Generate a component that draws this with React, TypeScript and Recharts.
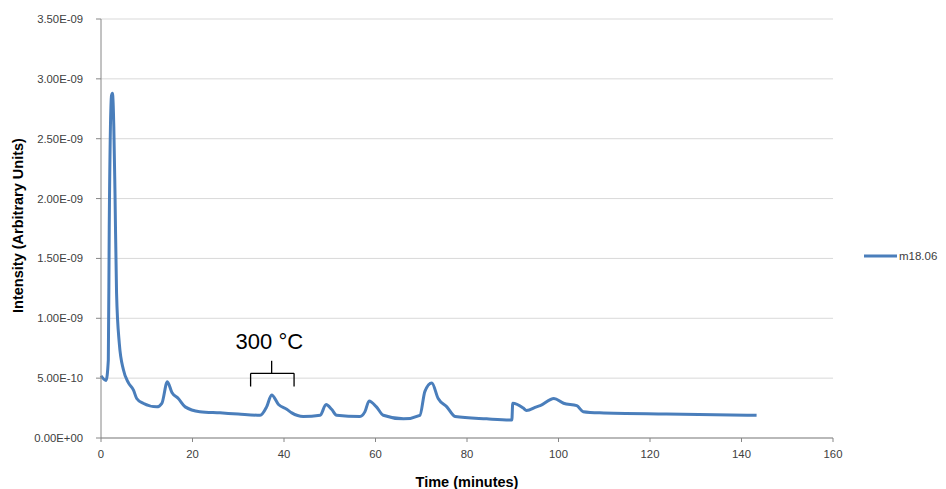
import React from "react";
import {
  LineChart,
  Line,
  XAxis,
  YAxis,
  CartesianGrid,
  Legend,
  ReferenceLine,
  ReferenceDot,
} from "recharts";

// time in minutes, intensity in units of 1e-9
const times = [
  0, 1.1, 1.6, 1.8, 2.3, 2.5, 2.8, 3.06, 3.4, 4.0, 4.9, 6.0, 7.1, 7.8, 9.2,
  12.2, 13.3, 14.5, 15.5, 16.9, 18.4, 21.6, 26, 30, 34.8, 36.2, 37.3, 38.8,
  40.6, 41.7, 44.2, 47.9, 49.2, 50.4, 51.5, 56.6, 57.7, 58.6, 60.2, 61.7,
  66.1, 69.7, 70.8, 72.3, 73.7, 75.6, 77.4, 84.3, 89.8, 90.0, 92.3, 93.0,
  95.2, 96, 99.0, 101.1, 104, 105.4, 109, 123.6, 143.3,
];
const intensity = [
  0.52, 0.48, 0.65, 1.76, 2.86, 2.88, 2.6, 2.04, 1.21, 0.79, 0.57, 0.46, 0.4,
  0.33, 0.29, 0.26, 0.29, 0.47, 0.38, 0.33, 0.26, 0.22, 0.21, 0.2, 0.19, 0.26,
  0.36, 0.28, 0.24, 0.21, 0.18, 0.19, 0.28, 0.24, 0.19, 0.18, 0.22, 0.31, 0.26,
  0.19, 0.16, 0.19, 0.39, 0.46, 0.33, 0.26, 0.18, 0.16, 0.15, 0.29, 0.25, 0.23,
  0.26, 0.27, 0.33, 0.29, 0.27, 0.22, 0.21, 0.2, 0.19,
];

const xTicks = [0, 20, 40, 60, 80, 100, 120, 140, 160];
const yTicks = [0, 5e-10, 1e-9, 1.5e-9, 2e-9, 2.5e-9, 3e-9, 3.5e-9];

const seriesName = "m18.06";
const annotation = "300 °C";
// brace over the 300 °C step: left, right, bar level, tip level (x in min, y in 1e-9)
const braceLeft = 32.7;
const braceRight = 42.2;
const braceMid = 37.3;
const braceFoot = 0.43;
const braceBar = 0.54;
const braceTip = 0.645;

const data = times.map((t, i) => ({ t, v: intensity[i] * 1e-9 }));

const lineColor = "#4a7ebb";
const axisColor = "#868686";
const font = "Liberation Sans, Arial, sans-serif";

function sci(v: number) {
  const [m, e] = v.toExponential(2).toUpperCase().split("E");
  const sign = e.startsWith("-") ? "-" : "+";
  return `${m}E${sign}${e.replace(/[+-]/, "").padStart(2, "0")}`;
}

const LegendBox = () => (
  <div
    style={{
      width: 82,
      display: "flex",
      alignItems: "center",
      fontFamily: font,
      fontSize: 11.5,
      color: "#404040",
    }}
  >
    <svg width={33} height={6}>
      <line x1={0} y1={3} x2={33} y2={3} stroke={lineColor} strokeWidth={3} />
    </svg>
    <span style={{ marginLeft: 2 }}>{seriesName}</span>
  </div>
);

const braceSeg = (a: [number, number], b: [number, number]) => [
  { x: a[0], y: a[1] * 1e-9 },
  { x: b[0], y: b[1] * 1e-9 },
];

export default function App() {
  const tickStyle = { fontFamily: font, fontSize: 11.3, fill: "#404040" };
  const braceLines = [
    braceSeg([braceLeft, braceFoot], [braceLeft, braceBar]),
    braceSeg([braceLeft, braceBar], [braceRight, braceBar]),
    braceSeg([braceRight, braceBar], [braceRight, braceFoot]),
    braceSeg([braceMid, braceBar], [braceMid, braceTip]),
  ];

  return (
    <div style={{ position: "absolute", left: 0, top: 0, background: "#fff" }}>
      <LineChart
        width={946}
        height={489}
        data={data}
        margin={{ top: 19, right: 31, bottom: 0, left: 0 }}
      >
        <CartesianGrid
          horizontal
          vertical={false}
          stroke="#d9d9d9"
          strokeWidth={1}
        />
        <XAxis
          dataKey="t"
          type="number"
          domain={[0, 160]}
          ticks={xTicks}
          stroke={axisColor}
          tickSize={4}
          tickMargin={8}
          tick={tickStyle}
          height={51}
          label={{
            content: ({ viewBox }: any) => (
              <text
                x={viewBox.x + viewBox.width / 2}
                y={viewBox.y + 49}
                textAnchor="middle"
                fontFamily={font}
                fontSize={14.5}
                fontWeight="bold"
                fill="#000"
              >
                Time (minutes)
              </text>
            ),
          }}
        />
        <YAxis
          type="number"
          domain={[0, 3.5e-9]}
          ticks={yTicks}
          tickFormatter={sci}
          stroke={axisColor}
          tickSize={5}
          tickMargin={13}
          tick={tickStyle}
          width={101}
          label={{
            content: ({ viewBox }: any) => {
              const cx = viewBox.x + 23;
              const cy = viewBox.y + viewBox.height / 2 - 3;
              return (
                <text
                  x={cx}
                  y={cy}
                  transform={`rotate(-90 ${cx} ${cy})`}
                  textAnchor="middle"
                  fontFamily={font}
                  fontSize={14.5}
                  fontWeight="bold"
                  fill="#000"
                >
                  Intensity (Arbitrary Units)
                </text>
              );
            },
          }}
        />
        <Legend
          layout="vertical"
          align="right"
          verticalAlign="middle"
          content={<LegendBox />}
          wrapperStyle={{ right: 0, top: 250 }}
        />
        <Line
          type="monotone"
          dataKey="v"
          name={seriesName}
          stroke={lineColor}
          strokeWidth={3}
          dot={false}
          isAnimationActive={false}
        />
        {braceLines.map((seg, i) => (
          <ReferenceLine
            key={i}
            segment={seg}
            stroke="#000"
            strokeWidth={1.3}
            ifOverflow="visible"
          />
        ))}
        <ReferenceDot
          x={braceMid - 0.5}
          y={0.81e-9}
          r={0}
          fill="none"
          stroke="none"
          label={{
            value: annotation,
            position: "center",
            fontFamily: font,
            fontSize: 22,
            fill: "#000",
          }}
        />
      </LineChart>
    </div>
  );
}
